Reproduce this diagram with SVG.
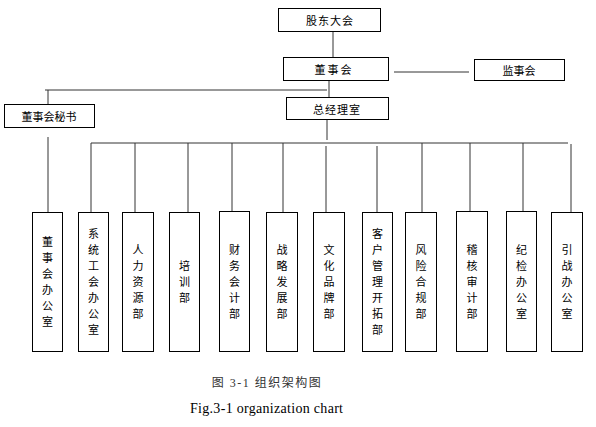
<svg xmlns="http://www.w3.org/2000/svg" width="596" height="427" viewBox="0 0 596 427">
<style>
.box{fill:#fff;stroke:#000;stroke-width:1}
.ln{stroke:#333;stroke-width:1;fill:none}
.t{font-family:"Noto Sans CJK SC","DejaVu Sans",sans-serif;font-size:11px;fill:#000;text-anchor:middle;dominant-baseline:central}
.v{font-family:"Noto Sans CJK SC","DejaVu Sans",sans-serif;font-size:11px;fill:#000;text-anchor:middle;dominant-baseline:central}
.cap{font-family:"Liberation Serif","Noto Sans CJK SC",serif;font-size:13px;fill:#000;text-anchor:middle}
</style>
<rect width="596" height="427" fill="#fff"/>
<g id="connectors">
<line class="ln" x1="333" y1="32" x2="333" y2="57"/>
<line class="ln" x1="394" y1="72" x2="469" y2="72"/>
<line class="ln" x1="329" y1="81" x2="329" y2="97"/>
<line class="ln" x1="45" y1="90" x2="327" y2="90"/>
<line class="ln" x1="48" y1="90" x2="48" y2="104"/>
<line class="ln" x1="48" y1="137" x2="48" y2="212"/>
<line class="ln" x1="327" y1="120" x2="327" y2="140"/>
<line class="ln" x1="91" y1="143" x2="568" y2="143"/>
<line class="ln" x1="91" y1="143" x2="91" y2="212"/>
<line class="ln" x1="135" y1="143" x2="135" y2="212"/>
<line class="ln" x1="188" y1="143" x2="188" y2="212"/>
<line class="ln" x1="232" y1="143" x2="232" y2="212"/>
<line class="ln" x1="283" y1="143" x2="283" y2="212"/>
<line class="ln" x1="326" y1="146" x2="326" y2="212"/>
<line class="ln" x1="377" y1="146" x2="377" y2="212"/>
<line class="ln" x1="422" y1="143" x2="422" y2="212"/>
<line class="ln" x1="470" y1="143" x2="470" y2="212"/>
<line class="ln" x1="523" y1="143" x2="523" y2="212"/>
<line class="ln" x1="571" y1="144" x2="571" y2="212"/>
</g>
<g id="gudong"><rect class="box" x="278.5" y="8.5" width="102" height="23"/><text class="t" x="330" y="20" letter-spacing="1">股东大会</text></g>
<g id="dongshihui"><rect class="box" x="283.5" y="57.5" width="105" height="23"/><text class="t" x="334" y="69" letter-spacing="2">董事会</text></g>
<g id="jianshihui"><rect class="box" x="474.5" y="59.5" width="90" height="21"/><text class="t" x="519" y="70">监事会</text></g>
<g id="zongjingli"><rect class="box" x="286.5" y="97.5" width="102" height="22"/><text class="t" x="337" y="109" letter-spacing="1">总经理室</text></g>
<g id="mishu"><rect class="box" x="4.5" y="104.5" width="90" height="23"/><text class="t" x="49" y="116">董事会秘书</text></g>
<g id="b1"><rect class="box" x="32.5" y="212.5" width="30" height="139"/><text class="v" x="47.5"><tspan x="47.5" y="241">董</tspan><tspan x="47.5" y="257">事</tspan><tspan x="47.5" y="273">会</tspan><tspan x="47.5" y="289">办</tspan><tspan x="47.5" y="305">公</tspan><tspan x="47.5" y="321">室</tspan></text></g>
<g id="b2"><rect class="box" x="78.5" y="212.5" width="30" height="139"/><text class="v"><tspan x="93.5" y="233">系</tspan><tspan x="93.5" y="249">统</tspan><tspan x="93.5" y="265">工</tspan><tspan x="93.5" y="281">会</tspan><tspan x="93.5" y="297">办</tspan><tspan x="93.5" y="313">公</tspan><tspan x="93.5" y="329">室</tspan></text></g>
<g id="b3"><rect class="box" x="122.5" y="212.5" width="31" height="139"/><text class="v"><tspan x="138" y="249">人</tspan><tspan x="138" y="265">力</tspan><tspan x="138" y="281">资</tspan><tspan x="138" y="297">源</tspan><tspan x="138" y="313">部</tspan></text></g>
<g id="b4"><rect class="box" x="169.5" y="212.5" width="30" height="139"/><text class="v"><tspan x="184.5" y="265">培</tspan><tspan x="184.5" y="281">训</tspan><tspan x="184.5" y="297">部</tspan></text></g>
<g id="b5"><rect class="box" x="219.5" y="211.5" width="30" height="140"/><text class="v"><tspan x="234.5" y="249">财</tspan><tspan x="234.5" y="265">务</tspan><tspan x="234.5" y="281">会</tspan><tspan x="234.5" y="297">计</tspan><tspan x="234.5" y="313">部</tspan></text></g>
<g id="b6"><rect class="box" x="266.5" y="212.5" width="31" height="139"/><text class="v"><tspan x="282" y="249">战</tspan><tspan x="282" y="265">略</tspan><tspan x="282" y="281">发</tspan><tspan x="282" y="297">展</tspan><tspan x="282" y="313">部</tspan></text></g>
<g id="b7"><rect class="box" x="313.5" y="212.5" width="31" height="139"/><text class="v"><tspan x="329" y="249">文</tspan><tspan x="329" y="265">化</tspan><tspan x="329" y="281">品</tspan><tspan x="329" y="297">牌</tspan><tspan x="329" y="313">部</tspan></text></g>
<g id="b8"><rect class="box" x="362.5" y="212.5" width="30" height="139"/><text class="v"><tspan x="377.5" y="233">客</tspan><tspan x="377.5" y="249">户</tspan><tspan x="377.5" y="265">管</tspan><tspan x="377.5" y="281">理</tspan><tspan x="377.5" y="297">开</tspan><tspan x="377.5" y="313">拓</tspan><tspan x="377.5" y="329">部</tspan></text></g>
<g id="b9"><rect class="box" x="405.5" y="212.5" width="31" height="139"/><text class="v"><tspan x="421" y="249">风</tspan><tspan x="421" y="265">险</tspan><tspan x="421" y="281">合</tspan><tspan x="421" y="297">规</tspan><tspan x="421" y="313">部</tspan></text></g>
<g id="b10"><rect class="box" x="456.5" y="211.5" width="31" height="140"/><text class="v"><tspan x="472" y="249">稽</tspan><tspan x="472" y="265">核</tspan><tspan x="472" y="281">审</tspan><tspan x="472" y="297">计</tspan><tspan x="472" y="313">部</tspan></text></g>
<g id="b11"><rect class="box" x="506.5" y="211.5" width="30" height="140"/><text class="v"><tspan x="521.5" y="249">纪</tspan><tspan x="521.5" y="265">检</tspan><tspan x="521.5" y="281">办</tspan><tspan x="521.5" y="297">公</tspan><tspan x="521.5" y="313">室</tspan></text></g>
<g id="b12"><rect class="box" x="551.5" y="212.5" width="31" height="139"/><text class="v"><tspan x="567" y="249">引</tspan><tspan x="567" y="265">战</tspan><tspan x="567" y="281">办</tspan><tspan x="567" y="297">公</tspan><tspan x="567" y="313">室</tspan></text></g>
<g id="caption">
<text class="cap" x="267" y="387" style="font-size:12px;fill:#333" letter-spacing="1.5">图 3-1 组织架构图</text>
<text class="cap" x="266.5" y="413" style="font-size:14px" textLength="153" lengthAdjust="spacing">Fig.3-1 organization chart</text>
</g>
</svg>
